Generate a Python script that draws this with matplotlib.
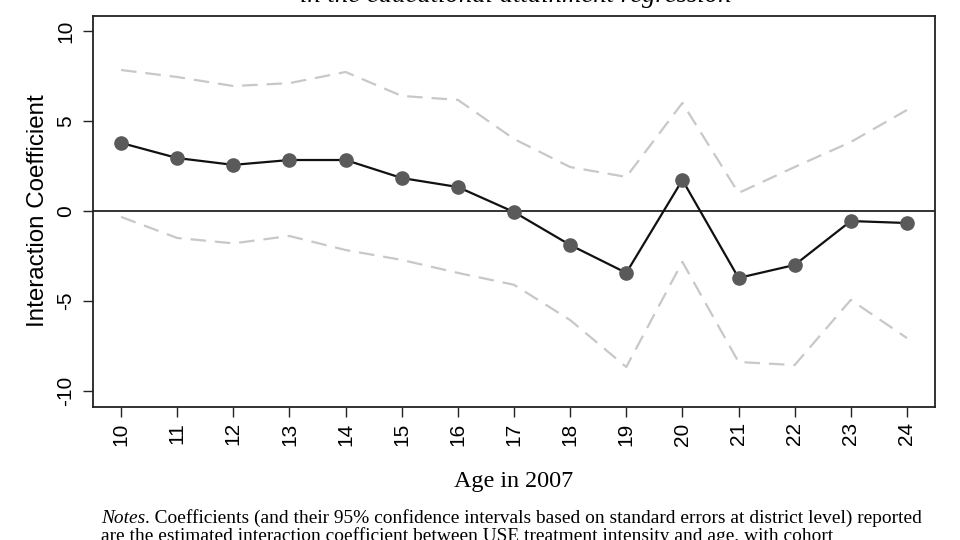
import matplotlib
matplotlib.use("Agg")
import matplotlib.pyplot as plt

ages = [10, 11, 12, 13, 14, 15, 16, 17, 18, 19, 20, 21, 22, 23, 24]
coef = [3.78, 2.94, 2.56, 2.83, 2.83, 1.83, 1.33, -0.06, -1.89, -3.44, 1.72, -3.72, -3.0, -0.56, -0.67]
upper = [7.83, 7.44, 6.94, 7.1, 7.72, 6.39, 6.17, 4.0, 2.44, 1.89, 6.0, 1.0, 2.44, 3.83, 5.61]
lower = [-0.33, -1.5, -1.8, -1.39, -2.17, -2.72, -3.44, -4.1, -6.06, -8.67, -2.83, -8.39, -8.56, -4.94, -7.06]
yticks = [10, 5, 0, -5, -10]

title_txt = "in the educational attainment regression"
notes_label = "Notes"
notes_line1 = ". Coefficients (and their 95% confidence intervals based on standard errors at district level) reported"
notes_line2 = "are the estimated interaction coefficient between USE treatment intensity and age, with cohort"

W, H = 960, 540
fig = plt.figure(figsize=(9.6, 5.4), dpi=100)
ax = fig.add_axes([93/W, 1 - 407/H, (935-93)/W, (407-16)/H])

sans = ["Liberation Sans", "DejaVu Sans"]
serif = ["Liberation Serif", "DejaVu Serif"]

ax.plot(ages, upper, color="#c8c8c8", lw=1.6, dashes=(7, 4))
ax.plot(ages, lower, color="#c8c8c8", lw=1.6, dashes=(7, 4))
ax.axhline(0, color="#222222", lw=1.3)
ax.plot(ages, coef, color="#111111", lw=1.6, marker="o", markersize=9.5,
        markerfacecolor="#5a5a5a", markeredgecolor="#5a5a5a", zorder=3)

ax.set_xlim(9.5, 24.5)
ax.set_ylim(-10.89, 10.83)
ax.set_xticks(ages)
ax.set_xticklabels([str(a) for a in ages], rotation=90, fontfamily=sans, fontsize=15)
ax.set_yticks(yticks)
ax.set_yticklabels([str(v) for v in yticks], rotation=90, va="center", fontfamily=sans, fontsize=15)
ax.tick_params(axis="x", length=7, width=1, color="#222222", pad=4)
ax.tick_params(axis="y", length=7, width=1, color="#222222", pad=6)
for s in ax.spines.values():
    s.set_linewidth(1.3)
    s.set_color("#222222")

fig.text(38/W, 1 - 211/H, "Interaction Coefficient", fontfamily=sans, fontsize=17.4,
         rotation=90, ha="center", va="center")
fig.text(514/W, 1 - 481/H, "Age in 2007", fontfamily=serif, fontsize=17.4, ha="center", va="center")

t = fig.text(516/W, 1 - 2.5/H, title_txt, fontfamily=serif, fontstyle="italic", fontsize=19,
             ha="center", va="baseline")

renderer = fig.canvas.get_renderer()
w = t.get_window_extent(renderer).width
t.set_fontsize(19 * 433 / w)

fs = 13
n1 = fig.text(101/W, 1 - 523/H, notes_label, fontfamily=serif, fontstyle="italic", fontsize=fs,
              ha="left", va="baseline")
l1 = fig.text(0, 1 - 523/H, notes_line1, fontfamily=serif, fontsize=fs, ha="left", va="baseline")
wn = n1.get_window_extent(renderer).width
wl = l1.get_window_extent(renderer).width
fs2 = fs * 818 / (wn + wl)
n1.set_fontsize(fs2)
l1.set_fontsize(fs2)
wn = n1.get_window_extent(renderer).width
l1.set_x((101 + wn) / W)
fig.text(101/W, 1 - 541/H, notes_line2, fontfamily=serif, fontsize=fs2, ha="left", va="baseline")

fig.savefig("out.png", dpi=100)
